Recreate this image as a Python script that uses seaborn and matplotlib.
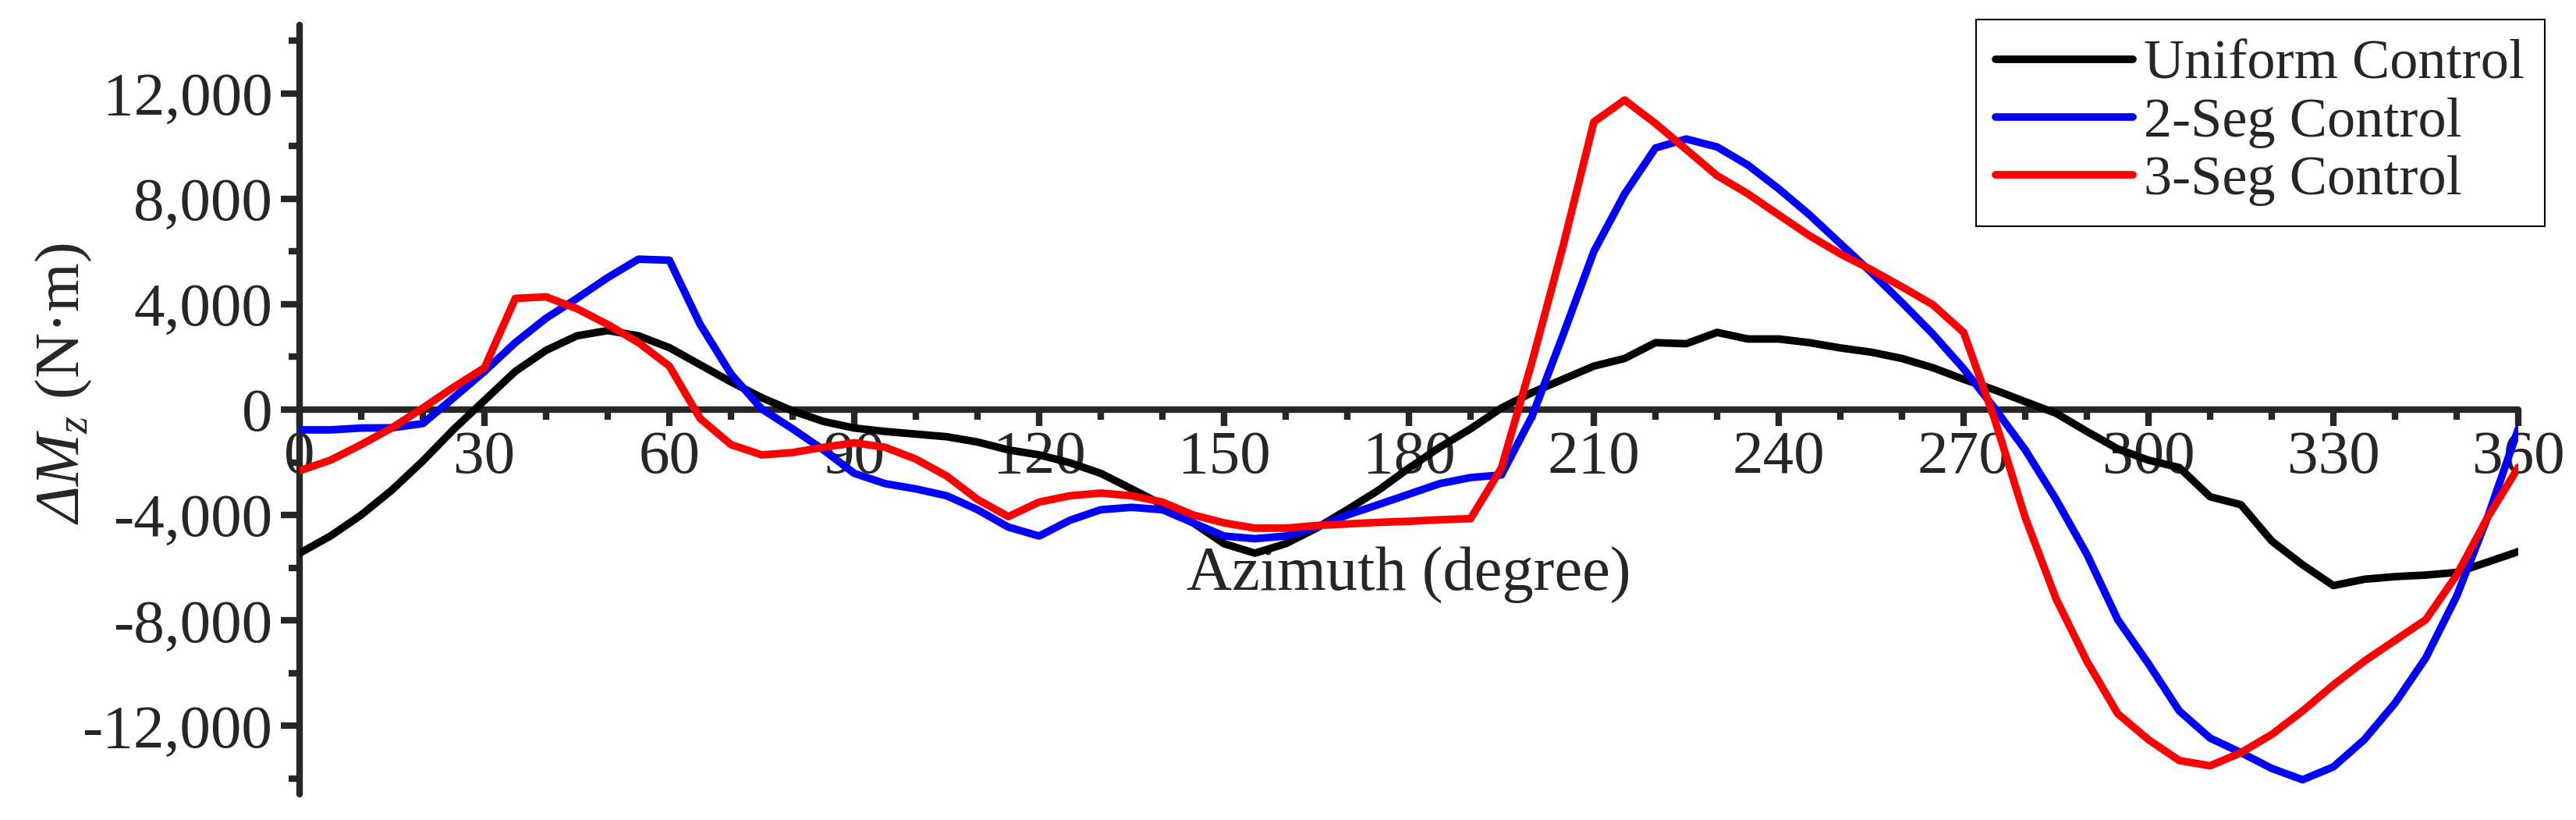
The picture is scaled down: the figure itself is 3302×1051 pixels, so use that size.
import numpy as np
import pandas as pd
import seaborn as sns
import matplotlib.pyplot as plt
from matplotlib.ticker import MultipleLocator, FuncFormatter

# Datos (cada 5 grados)
azimuth = list(range(0, 361, 5))

uniform = [-5450, -4800, -4000, -3050, -1950, -750, 350, 1450, 2250, 2800,
           3000, 2800, 2350, 1700, 1050, 450, -50, -450, -700, -830,
           -930, -1030, -1230, -1530, -1720, -2020, -2420, -3010, -3610, -4300,
           -5090, -5450, -5090, -4500, -3800, -3070, -2220, -1430, -730, 60,
           650, 1150, 1650, 1940, 2540, 2500, 2930, 2680, 2680, 2540,
           2340, 2180, 1940, 1590, 1150, 750, 300, -140, -830, -1490,
           -1920, -2200, -3310, -3610, -4990, -5890, -6680, -6440, -6340, -6280,
           -6180, -5790, -5390]

seg2 = [-770, -770, -700, -690, -530, 450, 1450, 2540, 3470, 4220,
        5010, 5710, 5670, 3230, 1350, 20, -730, -1530, -2420, -2810,
        -3010, -3270, -3800, -4460, -4800, -4200, -3800, -3710, -3800, -4300,
        -4800, -4900, -4800, -4460, -4000, -3610, -3210, -2810, -2580, -2480,
        -240, 2830, 6000, 8190, 9930, 10270, 9970, 9280, 8380, 7390,
        6300, 5210, 4060, 2870, 1550, 60, -1530, -3410, -5490, -7970,
        -9650, -11440, -12470, -13020, -13620, -14050, -13560, -12530, -11140, -9420,
        -7080, -4100, -730]

seg3 = [-2320, -1920, -1330, -690, 60, 850, 1590, 4220, 4280, 3830,
        3230, 2540, 1650, -340, -1330, -1720, -1630, -1430, -1260, -1430,
        -1880, -2520, -3410, -4060, -3510, -3270, -3170, -3270, -3510, -4000,
        -4300, -4500, -4500, -4400, -4340, -4280, -4240, -4180, -4140, -2220,
        1840, 6200, 10920, 11750, 10860, 9870, 8880, 8190, 7390, 6600,
        5910, 5310, 4660, 3980, 2930, -340, -4100, -7180, -9550, -11540,
        -12530, -13320, -13520, -13020, -12330, -11440, -10450, -9550, -8760, -7970,
        -6280, -4100, -2190]

series_names = ["Uniform Control", "2-Seg Control", "3-Seg Control"]
colors = ["#000000", "#0000FF", "#FF0000"]

df = pd.DataFrame({
    "Azimuth": azimuth * 3,
    "dMz": uniform + seg2 + seg3,
    "Control": np.repeat(series_names, len(azimuth)),
})

sns.set_theme(style="ticks")
plt.rcParams["font.family"] = ["Liberation Serif", "DejaVu Serif"]
plt.rcParams["mathtext.fontset"] = "custom"
plt.rcParams["mathtext.rm"] = "Liberation Serif"
plt.rcParams["mathtext.it"] = "Liberation Serif:italic"
plt.rcParams["mathtext.sf"] = "Liberation Serif:italic"
plt.rcParams["axes.unicode_minus"] = False

fig = plt.figure(figsize=(33.02, 10.51), dpi=100)
ax = fig.add_axes([0.1163, 0.0314, 0.8613, 0.9382])

sns.lineplot(data=df, x="Azimuth", y="dMz", hue="Control", hue_order=series_names,
             palette=colors, estimator=None, linewidth=7, ax=ax,
             solid_capstyle="round")

# Ejes estilo Origin: eje x en y=0
ax.spines["top"].set_visible(False)
ax.spines["right"].set_visible(False)
ax.spines["bottom"].set_position(("data", 0))
for s in ("left", "bottom"):
    ax.spines[s].set_linewidth(6)
    ax.spines[s].set_capstyle("round")
    ax.spines[s].set_zorder(1)
ax.set_axisbelow(True)

ax.set_xlim(0, 360)
ax.set_ylim(-14600, 14600)
ax.xaxis.set_major_locator(MultipleLocator(30))
ax.xaxis.set_minor_locator(MultipleLocator(10))
ax.yaxis.set_major_locator(MultipleLocator(4000))
ax.yaxis.set_minor_locator(MultipleLocator(2000))
ax.yaxis.set_major_formatter(FuncFormatter(lambda v, p: f"{int(round(v)):,}"))

ax.tick_params(axis="x", which="major", direction="out", length=15, width=6,
               labelsize=57, pad=4)
ax.tick_params(axis="x", which="minor", direction="out", length=9, width=6)
ax.tick_params(axis="y", which="major", direction="out", length=17, width=6,
               labelsize=57, pad=8)
ax.tick_params(axis="y", which="minor", direction="out", length=10, width=6)

ax.set_xlabel("Azimuth (degree)", fontsize=58)
ax.xaxis.set_label_coords(0.5, 0.265)
ax.xaxis.label.set_verticalalignment("baseline")

ax.set_ylabel(r"$\mathsf{\Delta}M_{z}$ (N·m)", fontsize=58)
ax.yaxis.set_label_coords(-0.0928, 0.5335)

handles, labels = ax.get_legend_handles_labels()
leg = ax.legend(handles, labels, loc="upper left",
                bbox_to_anchor=(2533 / 3302, 1 - 25 / 1051),
                bbox_transform=fig.transFigure, fontsize=52, frameon=True,
                fancybox=False, edgecolor="black", framealpha=1,
                borderpad=0.35, labelspacing=0.12, handlelength=2.43,
                handletextpad=0.2, borderaxespad=0)
leg.get_frame().set_linewidth(1.5)
for h in leg.get_lines():
    h.set_linewidth(7)
    h.set_solid_capstyle("round")

fig.savefig("out.png", dpi=100)
